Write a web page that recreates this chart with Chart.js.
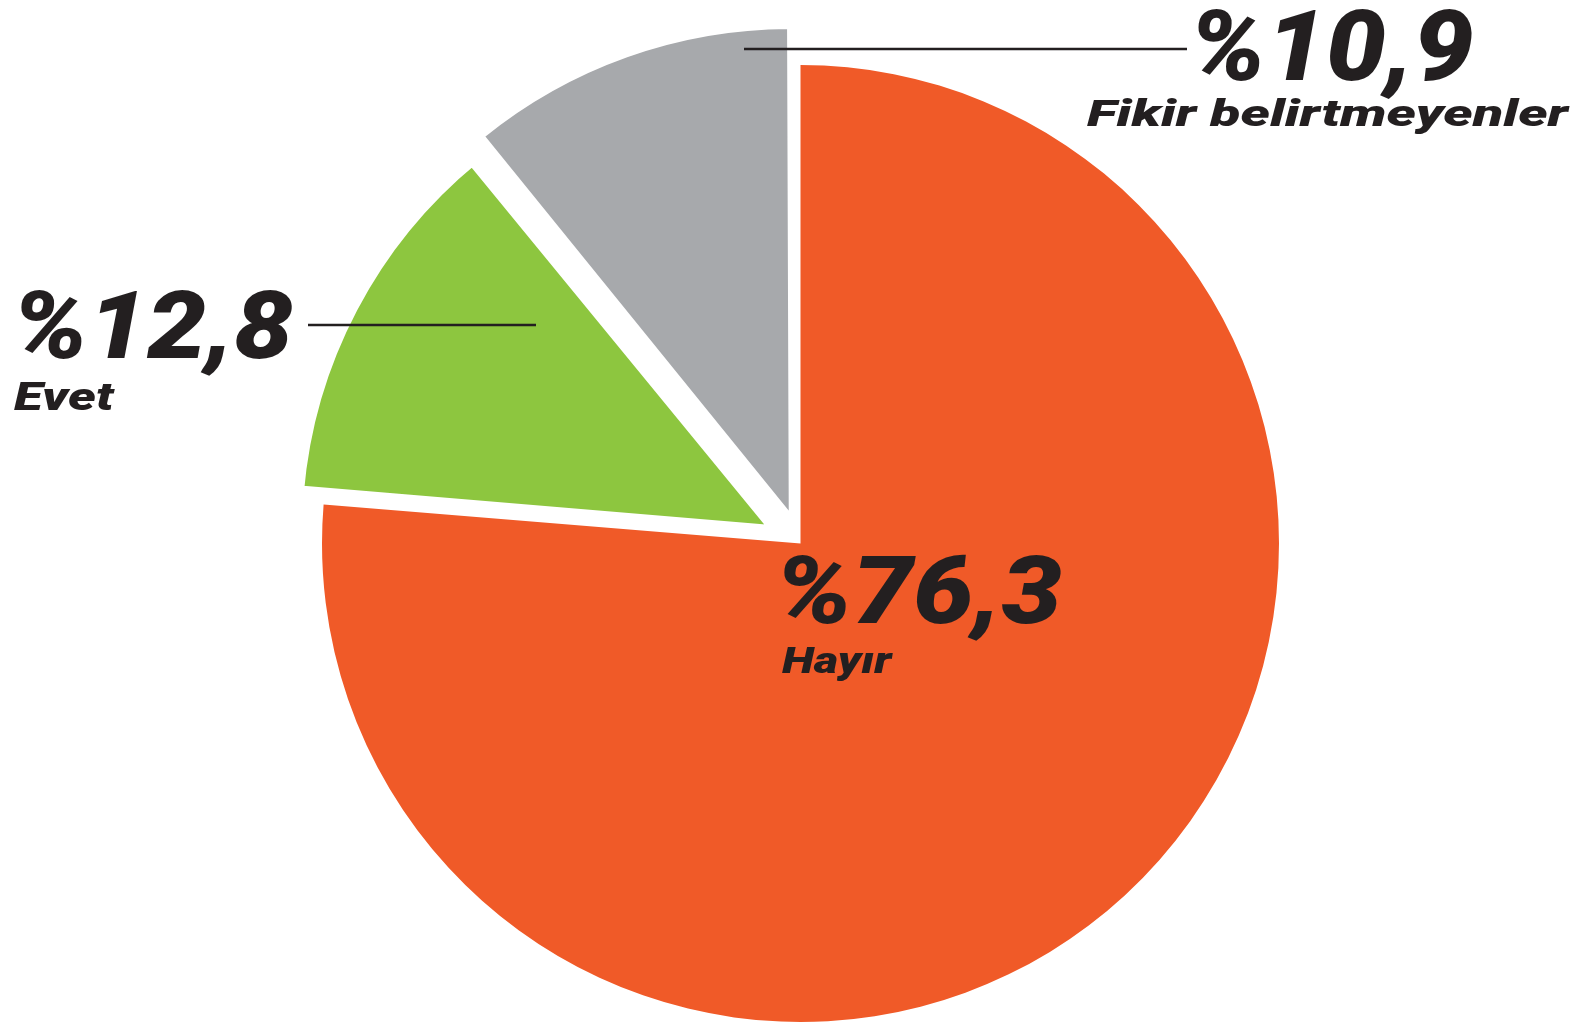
<!DOCTYPE html>
<html>
<head>
<meta charset="utf-8">
<script src="https://cdn.jsdelivr.net/npm/chart.js@4.4.1/dist/chart.umd.min.js"></script>
<style>
  html, body { margin: 0; padding: 0; background: #fff; overflow: hidden; }
</style>
</head>
<body>
<canvas id="pie" width="1583" height="1027"></canvas>
<script>
// survey answers and their shares (%)
var answers = ['Hayır', 'Evet', 'Fikir belirtmeyenler'];
var shares = [76.3, 12.8, 10.9];
var sliceColors = ['#f05a28', '#8dc63f', '#a7a9ac'];

var ink = '#231f20';
var labelFont = 'Roboto';

// where each label sits: left edge, baseline, digit height, text width
var labelBoxes = [
  { big: [783, 623, 68, 279], small: [782, 673, 27, 111] },
  { big: [20, 358, 68, 273], small: [14, 410, 28, 101] },
  { big: [1198, 80, 70, 275], small: [1087, 126, 28, 483] }
];
// leader lines: x from, x to, y
var leaders = [null, [308, 536, 325], [744, 1187, 49]];

function pct(v) {
  return '%' + v.toFixed(1).replace('.', ',');
}

function fitText(ctx, text, box) {
  var left = box[0], base = box[1], h = box[2], w = box[3];
  ctx.font = 'italic 900 100px ' + labelFont;
  var m = ctx.measureText(text);
  var size = 100 * h / m.actualBoundingBoxAscent;
  ctx.font = 'italic 900 ' + size + 'px ' + labelFont;
  m = ctx.measureText(text);
  var mw = m.actualBoundingBoxLeft + m.actualBoundingBoxRight;
  ctx.save();
  ctx.translate(left, base);
  ctx.scale(w / mw, 1);
  ctx.fillText(text, m.actualBoundingBoxLeft, 0);
  ctx.restore();
}

var pieLabels = {
  id: 'pieLabels',
  afterDraw: function (chart) {
    var ctx = chart.ctx;
    ctx.save();
    ctx.fillStyle = ink;
    ctx.strokeStyle = ink;
    ctx.lineWidth = 2.5;
    ctx.textAlign = 'left';
    ctx.textBaseline = 'alphabetic';
    for (var i = 0; i < answers.length; i++) {
      var l = leaders[i];
      if (l) {
        ctx.beginPath();
        ctx.moveTo(l[0], l[2]);
        ctx.lineTo(l[1], l[2]);
        ctx.stroke();
      }
      fitText(ctx, pct(shares[i]), labelBoxes[i].big);
      fitText(ctx, answers[i], labelBoxes[i].small);
    }
    ctx.restore();
  }
};

var pie = document.getElementById('pie').getContext('2d');
var pieChart = new Chart(pie, {
  type: 'pie',
  data: {
    labels: answers,
    datasets: [{
      data: shares,
      backgroundColor: sliceColors,
      borderColor: '#ffffff',
      borderWidth: [0, 14, 4],
      offset: [0, 92, 116]
    }]
  },
  options: {
    responsive: false,
    animation: false,
    devicePixelRatio: 1,
    radius: 478.5,
    layout: { padding: { left: 18, top: 60 } },
    plugins: {
      legend: { display: false },
      tooltip: { enabled: false }
    }
  },
  plugins: [pieLabels]
});
</script>
</body>
</html>
